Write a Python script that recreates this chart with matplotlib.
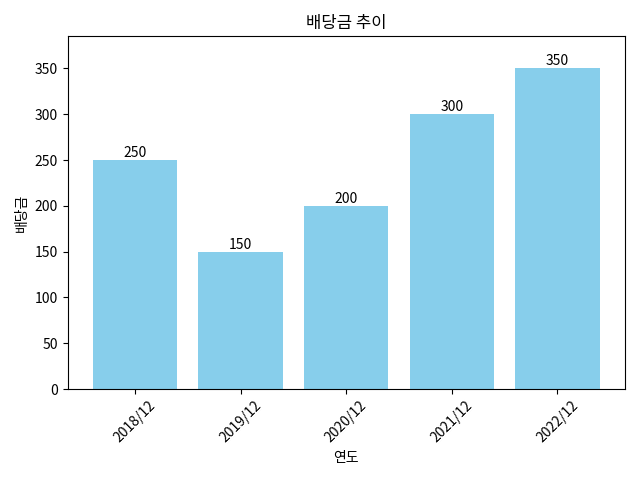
import matplotlib
matplotlib.use('Agg')
import matplotlib.pyplot as plt

plt.rcParams['font.family'] = ['Noto Sans CJK KR', 'DejaVu Sans']

years = ['2018/12', '2019/12', '2020/12', '2021/12', '2022/12']
dividends = [250, 150, 200, 300, 350]

fig, ax = plt.subplots(figsize=(6.4, 4.8), dpi=100)
bars = ax.bar(years, dividends, color='skyblue')
for bar, val in zip(bars, dividends):
    ax.text(bar.get_x() + bar.get_width() / 2, bar.get_height(), str(val),
            ha='center', va='bottom')

ax.set_ylim(0, max(dividends) * 1.1)
ax.set_title('배당금 추이')
ax.set_xlabel('연도')
ax.set_ylabel('배당금')
plt.xticks(rotation=45)
plt.tight_layout()
plt.savefig('out.png')
